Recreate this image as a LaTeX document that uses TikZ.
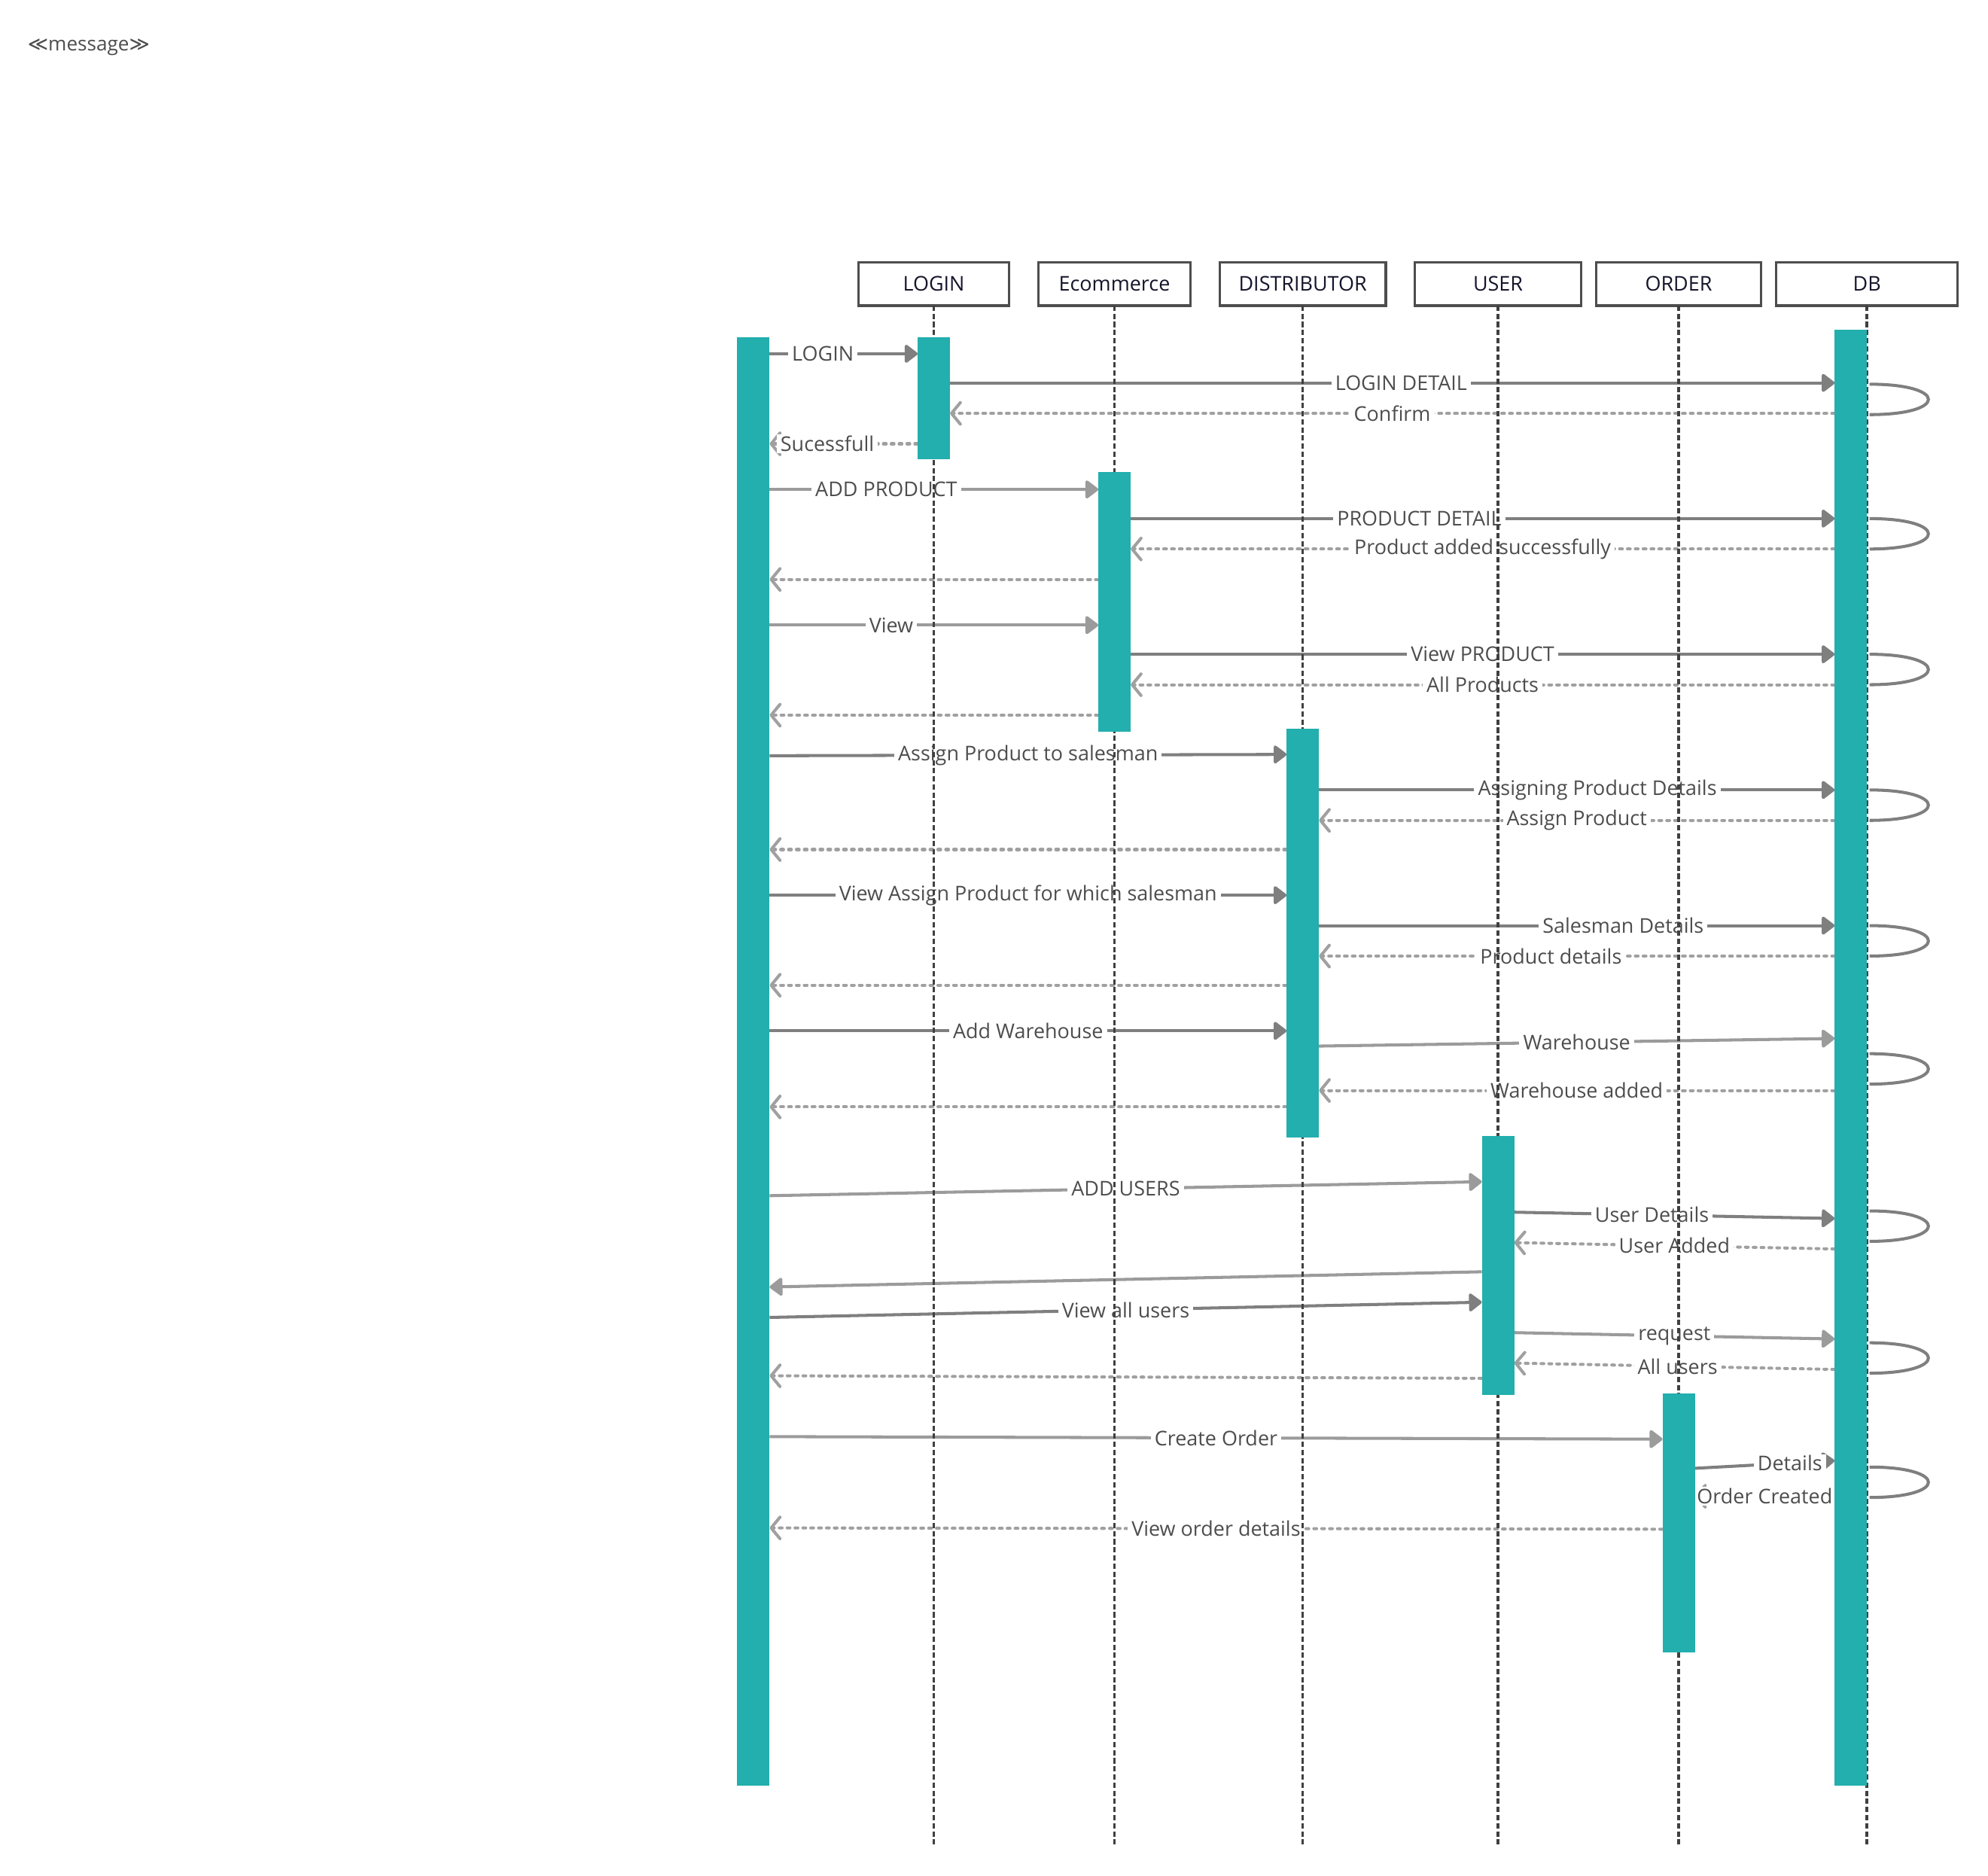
\documentclass[tikz,border=0pt]{standalone}
\usepackage{fontspec}
\setmainfont{Open Sans}
\newfontfamily\symfont{DejaVu Sans}
\usetikzlibrary{arrows.meta,positioning}
\definecolor{barteal}{HTML}{22AFAD}
\definecolor{boxgray}{HTML}{4D4D4D}
\definecolor{lifegray}{HTML}{404040}
\definecolor{headtext}{HTML}{14142B}
\definecolor{lbltext}{HTML}{4D4D4D}
\definecolor{calldark}{HTML}{7F7F7F}
\definecolor{calllight}{HTML}{9B9B9B}
\definecolor{replygray}{HTML}{A0A0A0}
\pgfdeclarelayer{back}
\pgfsetlayers{back,main}

\begin{document}
\begin{tikzpicture}[
  x=1pt, y=-1pt,
  head/.style={draw=boxgray, line width=2pt, minimum height=34pt, inner sep=0pt, outer sep=0pt, text=headtext, font=\fontsize{16}{19}\selectfont},
  bar/.style={fill=barteal, draw=none, minimum width=25.5pt, inner sep=0pt, outer sep=0pt, anchor=north},
  lifeline/.style={draw=lifegray, line width=2pt, dash pattern=on 4.2pt off 2.2pt},
  call/.style={draw=calldark, line width=2.4pt, -{Triangle[length=11pt,width=16pt,round]}},
  callb/.style={call, draw=calllight},
  reply/.style={draw=replygray, line width=2.4pt, line cap=round, dash pattern=on 2.2pt off 4pt, -{Straight Barb[length=7pt,width=17pt,line width=2.4pt,round]}},
  selfloop/.style={draw=calldark, line width=2.4pt},
  lbl/.style={fill=white, text=lbltext, inner xsep=3pt, inner ysep=1pt, font=\fontsize{16}{19}\selectfont}
]
\useasboundingbox (0,0) rectangle (1568,1479);

\node[text=lbltext, font=\fontsize{15.5}{18}\selectfont] (stereo) at (70,37) {{\symfont ≪}message{\symfont ≫}};

% lifeline heads
\node[head, minimum width=119pt] (login) at (736.5,224) {LOGIN};
\node[head, minimum width=120pt, right=23pt of login] (ecom) {Ecommerce};
\node[head, minimum width=131pt, right=23pt of ecom] (dist) {DISTRIBUTOR};
\node[head, minimum width=131pt, right=23pt of dist] (user) {USER};
\node[head, minimum width=130pt, right=12pt of user] (order) {ORDER};
\node[head, minimum width=143pt, right=12pt of order] (db) {DB};

\foreach \n in {login,ecom,dist,user,order,db}
  \draw[lifeline] (\n.south) -- (\n.south |- 0,1455);

% activations
\node[bar, minimum width=26pt, minimum height=1142pt] (actorbar) at (594,266) {};
\node[bar, minimum height=96pt] (loginbar) at (login.south |- 0,266) {};
\node[bar, minimum height=205pt] (ecombar) at (ecom.south |- 0,372) {};
\node[bar, minimum height=322pt] (distbar) at (dist.south |- 0,575) {};
\node[bar, minimum height=204pt] (userbar) at (user.south |- 0,896) {};
\node[bar, minimum height=204pt] (orderbar) at (order.south |- 0,1099) {};
\node[bar, minimum height=1148pt, anchor=north east] (dbbar) at (db.south |- 0,260) {};

\begin{pgfonlayer}{back}
% login
\draw[call] (actorbar.east |- 0,279) -- (loginbar.west |- 0,279) node[lbl, pos=.36] {LOGIN};
\draw[call] (loginbar.east |- 0,302) -- (dbbar.west |- 0,302) node[lbl, pos=.51] {LOGIN DETAIL};
\draw[reply] (dbbar.west |- 0,326) -- (loginbar.east |- 0,326) node[lbl, midway] {Confirm};
\draw[reply] (loginbar.west |- 0,350) -- (actorbar.east |- 0,350) node[lbl, pos=.61] {Sucessfull};
% products
\draw[callb] (actorbar.east |- 0,386) -- (ecombar.west |- 0,386) node[lbl, pos=.355] {ADD PRODUCT};
\draw[call] (ecombar.east |- 0,409) -- (dbbar.west |- 0,409) node[lbl, pos=.41] {PRODUCT DETAIL};
\draw[reply] (dbbar.west |- 0,433) -- (ecombar.east |- 0,433) node[lbl, midway] {Product added successfully};
\draw[reply] (ecombar.west |- 0,457) -- (actorbar.east |- 0,457);
\draw[callb] (actorbar.east |- 0,493) -- (ecombar.west |- 0,493) node[lbl, pos=.37] {View};
\draw[call] (ecombar.east |- 0,516) -- (dbbar.west |- 0,516) node[lbl, midway] {View PRODUCT};
\draw[reply] (dbbar.west |- 0,540) -- (ecombar.east |- 0,540) node[lbl, midway] {All Products};
\draw[reply] (ecombar.west |- 0,564) -- (actorbar.east |- 0,564);
% distributor
\draw[call] (actorbar.east |- 0,596) -- (distbar.west |- 0,595) node[lbl, midway] {Assign Product to salesman};
\draw[call] (distbar.east |- 0,623) -- (dbbar.west |- 0,623) node[lbl, pos=.54] {Assigning Product Details};
\draw[reply] (dbbar.west |- 0,647) -- (distbar.east |- 0,647) node[lbl, midway] {Assign Product};
\draw[reply] (distbar.west |- 0,670) -- (actorbar.east |- 0,670);
\draw[call] (actorbar.east |- 0,706) -- (distbar.west |- 0,706) node[lbl, midway] {View Assign Product for which salesman};
\draw[call] (distbar.east |- 0,730) -- (dbbar.west |- 0,730) node[lbl, pos=.59] {Salesman Details};
\draw[reply] (dbbar.west |- 0,754) -- (distbar.east |- 0,754) node[lbl, pos=.55] {Product details};
\draw[reply] (distbar.west |- 0,777) -- (actorbar.east |- 0,777);
\draw[call] (actorbar.east |- 0,813) -- (distbar.west |- 0,813) node[lbl, midway] {Add Warehouse};
\draw[callb] (distbar.east |- 0,825) -- (dbbar.west |- 0,819) node[lbl, midway] {Warehouse};
\draw[reply] (dbbar.west |- 0,860) -- (distbar.east |- 0,860) node[lbl, midway] {Warehouse added};
\draw[reply] (distbar.west |- 0,873) -- (actorbar.east |- 0,873);
% users
\draw[callb] (actorbar.east |- 0,943) -- (userbar.west |- 0,932) node[lbl, midway] {ADD USERS};
\draw[call] (userbar.east |- 0,956) -- (dbbar.west |- 0,961) node[lbl, pos=.43] {User Details};
\draw[reply] (dbbar.west |- 0,985) -- (userbar.east |- 0,980) node[lbl, midway] {User Added};
\draw[callb] (userbar.west |- 0,1003) -- (actorbar.east |- 0,1015);
\draw[call] (actorbar.east |- 0,1039) -- (userbar.west |- 0,1027) node[lbl, midway] {View all users};
\draw[callb] (userbar.east |- 0,1051) -- (dbbar.west |- 0,1056) node[lbl, midway] {request};
\draw[reply] (dbbar.west |- 0,1080) -- (userbar.east |- 0,1075) node[lbl, pos=.49] {All users};
\draw[reply] (userbar.west |- 0,1087) -- (actorbar.east |- 0,1085);
% orders
\draw[callb] (actorbar.east |- 0,1133) -- (orderbar.west |- 0,1135) node[lbl, midway] {Create Order};
\draw[call] (orderbar.east |- 0,1158) -- (dbbar.west |- 0,1152) node[lbl, pos=.68] {Details};
\draw[reply] (dbbar.west |- 0,1180) -- (orderbar.east |- 0,1180) node[lbl, midway] {Order Created};
\draw[reply] (orderbar.west |- 0,1206) -- (actorbar.east |- 0,1205) node[lbl, midway] {View order details};
\end{pgfonlayer}

% db self calls
\foreach \y in {303,409,516,623,730,831,955,1059,1157}
  \draw[selfloop] ([xshift=2pt]dbbar.east |- 0,\y) .. controls +(62,0) and +(62,0) .. ([xshift=2pt]dbbar.east |- 0,\y+24);
\end{tikzpicture}
\end{document}
